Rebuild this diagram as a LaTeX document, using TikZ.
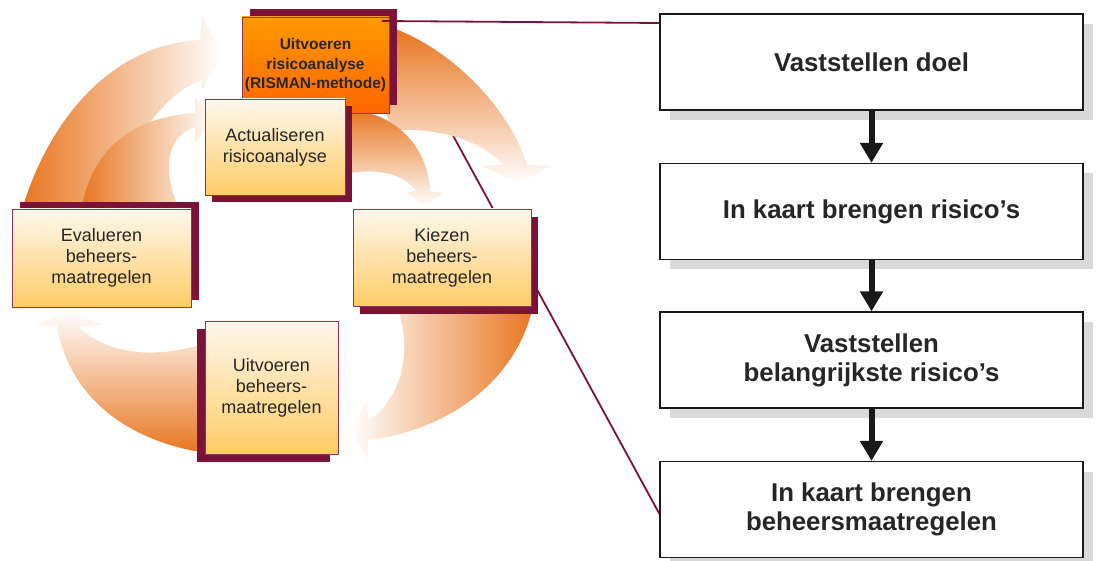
\documentclass[tikz,border=0pt]{standalone}
\usepackage{fontspec}
\setmainfont{Liberation Sans}
\usetikzlibrary{shadows,arrows.meta}
\definecolor{maroon}{RGB}{122,18,58}
\definecolor{arrowor}{RGB}{232,119,34}
\definecolor{creamtop}{RGB}{255,248,238}
\definecolor{creambot}{RGB}{255,204,102}
\definecolor{ortop}{RGB}{255,153,0}
\definecolor{orbot}{RGB}{255,102,0}
\definecolor{shadowgray}{RGB}{217,217,217}
\definecolor{txt}{RGB}{38,38,38}
\tikzset{
  cshadow/.style 2 args={drop shadow={shadow xshift=#1, shadow yshift=#2, fill=maroon, opacity=1}},
  cyclebox/.style={draw=maroon!85, line width=0.8pt, top color=creamtop, bottom color=creambot,
    text=txt, font=\fontsize{18}{21}\selectfont, align=center, inner sep=0pt},
  riskbox/.style={draw=maroon!85, line width=0.8pt, top color=ortop, bottom color=orbot,
    text=txt, font=\bfseries\fontsize{15.5}{19.5}\selectfont, align=center, inner sep=0pt,
    minimum width=147pt, minimum height=96pt},
  flowbox/.style={draw=black!90, line width=1.2pt, fill=white, text=txt,
    font=\bfseries\fontsize{25.8}{29}\selectfont, align=center, inner sep=0pt,
    minimum width=423pt, minimum height=96pt,
    drop shadow={shadow xshift=10pt, shadow yshift=-10pt, fill=shadowgray, opacity=1}},
  flowarrow/.style={draw=black!90, line width=6pt, -{Triangle[width=22pt,length=20pt]}},
  callout/.style={draw=maroon, line width=1.8pt},
}
\begin{document}
\begin{tikzpicture}[x=1pt,y=-1pt]
\useasboundingbox (0,0) rectangle (1096,561);

% callout line behind the cycle
\coordinate (l2s) at (420,75);
\coordinate (l2e) at (660,515);
\draw[callout] (l2s) -- (l2e);

% curved arrows
% A (outer, top-left)
\shade[left color=arrowor, right color=white]
  (23,206) .. controls (50,120) and (110,45) .. (200,40) -- (202,17) -- (222,53) -- (202,90) -- (202,80)
  .. controls (160,95) and (125,150) .. (115,206) -- cycle;
% B (inner, top-left)
\shade[left color=arrowor, right color=white]
  (82,206) .. controls (92,155) and (125,118) .. (195,113) -- (195,98) -- (214,120) -- (195,142) -- (195,127)
  .. controls (170,135) and (160,165) .. (178,206) -- cycle;
% C (outer, top-right)
\shade[top color=arrowor, bottom color=white]
  (388,30) -- (398,30) .. controls (460,55) and (512,115) .. (527,165) -- (550,166) -- (518,184) -- (482,166) -- (503,165)
  .. controls (485,145) and (450,128) .. (395,130) -- (385,112) -- cycle;
% D (inner, top-right)
\shade[top color=arrowor, bottom color=white]
  (350,113) -- (353,112) .. controls (385,110) and (428,140) .. (430,191) -- (443,193) -- (425,206) -- (407,193) -- (416,191)
  .. controls (405,175) and (380,168) .. (350,173) -- cycle;
% E (bottom-right)
\shade[left color=white, right color=arrowor]
  (398,310) .. controls (415,360) and (395,405) .. (368,420) -- (367,400) -- (350,430) -- (368,460) -- (368,440)
  .. controls (450,430) and (515,380) .. (532,310) -- cycle;
% F (bottom-left)
\shade[top color=white, bottom color=arrowor]
  (200,452) .. controls (130,440) and (70,400) .. (57,326) -- (37,325) -- (70,310) -- (102,325) -- (78,326)
  .. controls (100,348) and (140,362) .. (200,345) -- cycle;

% cycle boxes
\node[cyclebox, cshadow={8pt}{7pt}, minimum width=179pt, minimum height=98pt] (ev) at (101.5,258)
  {Evalueren\\beheers-\\maatregelen};
\node[cyclebox, cshadow={-8pt}{-8pt}, minimum width=133pt, minimum height=133pt] (ui) at (271.5,387.5)
  {Uitvoeren\\beheers-\\maatregelen};
\node[cyclebox, cshadow={7pt}{-8pt}, minimum width=178pt, minimum height=97pt] (ki) at (442,257.5)
  {Kiezen\\beheers-\\maatregelen};
\node[riskbox, cshadow={8pt}{8pt}] (ur) at (315.5,65)
  {Uitvoeren\\risicoanalyse\\(RISMAN-methode)};
\node[cyclebox, cshadow={7pt}{-7pt}, minimum width=140pt, minimum height=96pt] (ac) at (275,147)
  {Actualiseren\\risicoanalyse};

% callout line on top
\coordinate (l1s) at (382,21);
\coordinate (l1e) at (660,23);
\draw[callout] (l1s) -- (l1e);

% flow boxes
\node[flowbox] (r1) at (871.5,62) {Vaststellen doel};
\node[flowbox] (r2) at (871.5,211.5) {In kaart brengen risico’s};
\node[flowbox] (r3) at (871.5,360) {Vaststellen\\belangrijkste risico’s};
\node[flowbox] (r4) at (871.5,509.5) {In kaart brengen\\beheersmaatregelen};

\draw[flowarrow] (r1.south) -- (r2.north);
\draw[flowarrow] (r2.south) -- (r3.north);
\draw[flowarrow] (r3.south) -- (r4.north);
\end{tikzpicture}
\end{document}
